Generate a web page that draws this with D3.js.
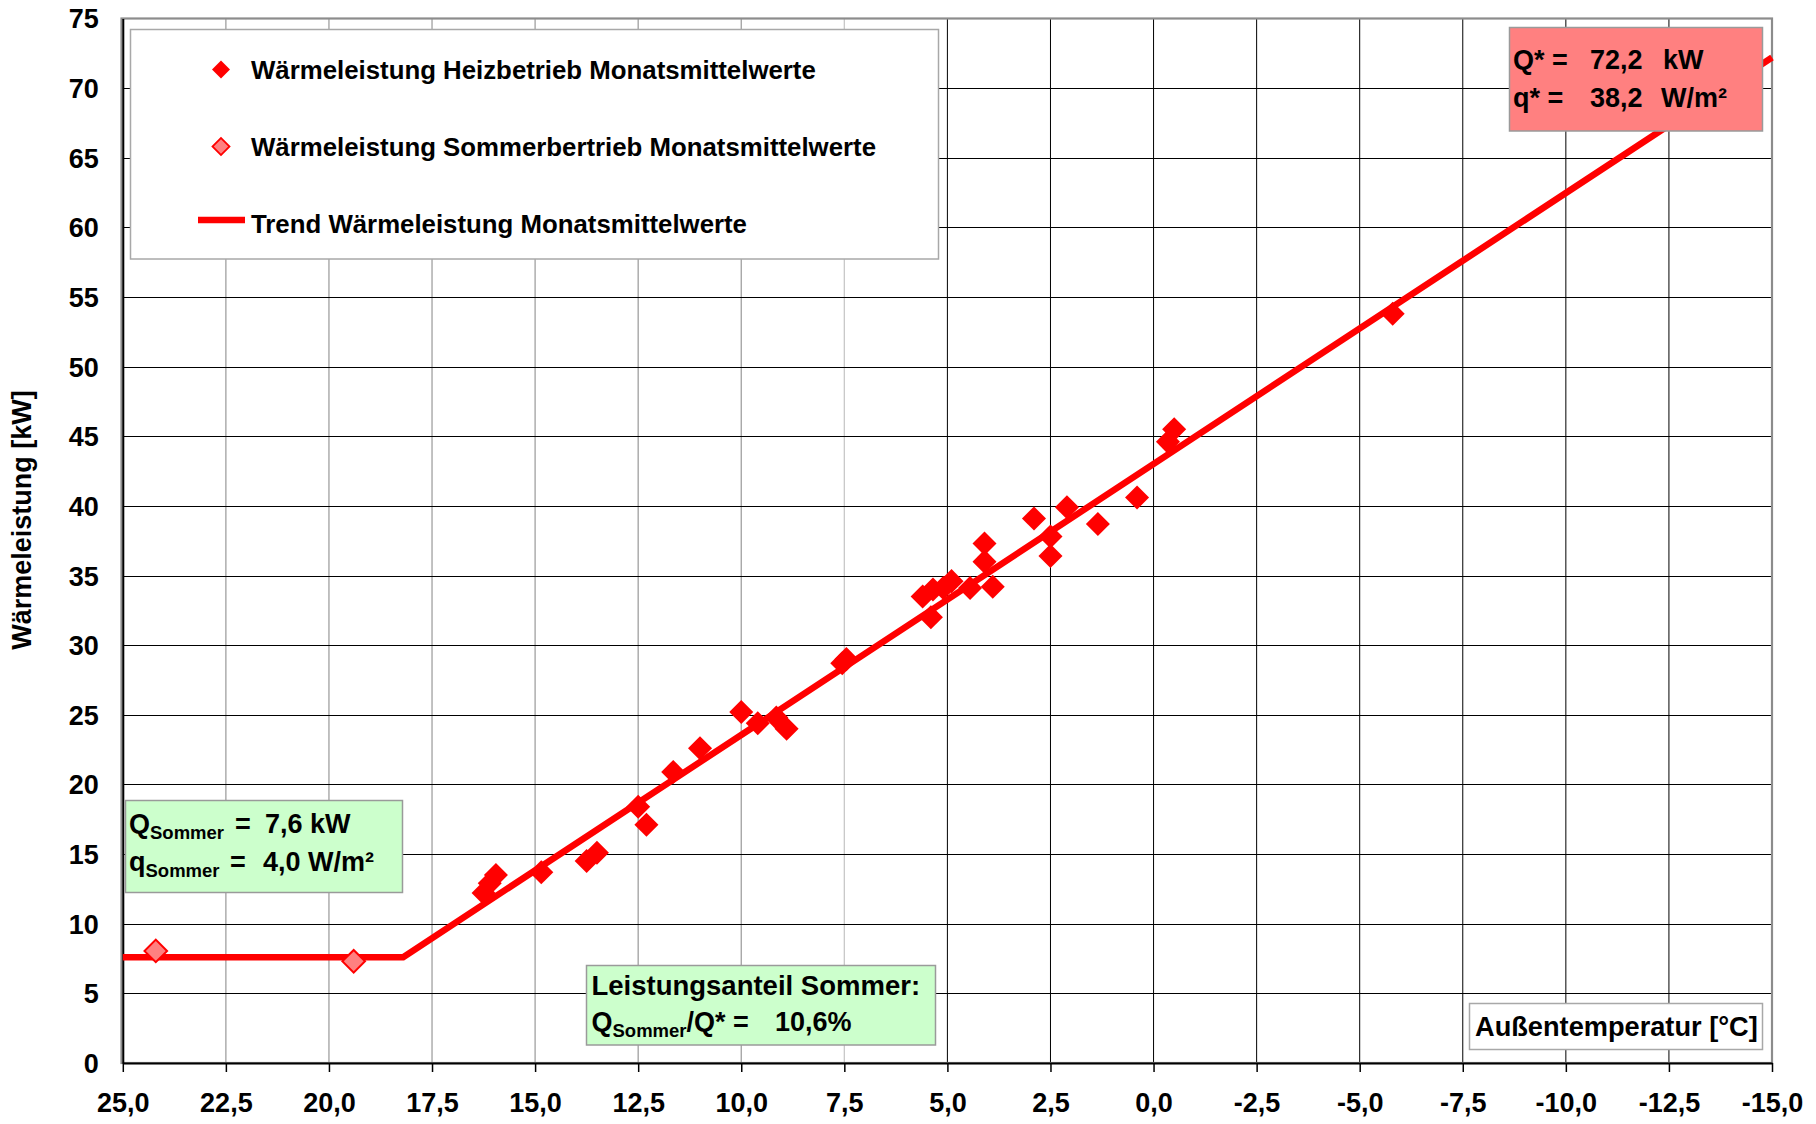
<!DOCTYPE html>
<html>
<head>
<meta charset="utf-8">
<script src="https://cdn.jsdelivr.net/npm/d3@7"></script>
<style>
  html, body { margin: 0; padding: 0; background: #fff; }
  svg { display: block; }
  text { font-family: "Liberation Sans", Arial, sans-serif; font-weight: bold; fill: #000; }
</style>
</head>
<body>
<svg id="chart" width="1816" height="1124"></svg>
<script>
// Monthly mean heat output, heating operation: outdoor temperature [°C] and output [kW]
const heatTemp = [16.25, 16.1, 15.95, 14.85, 13.75, 13.5, 12.5, 12.3, 11.65, 11.0,
                  10.0, 9.6, 9.15, 8.9, 7.55, 7.45, 5.6, 5.4, 5.35, 5.1,
                  4.9, 4.45, 4.1, 4.1, 3.9, 2.9, 2.5, 2.5, 2.1, 1.35,
                  0.4, -0.35, -0.5, -5.8];
const heatPower = [12.2, 12.9, 13.5, 13.7, 14.5, 15.1, 18.4, 17.1, 20.9, 22.6,
                   25.2, 24.4, 24.8, 24.0, 28.7, 29.0, 33.5, 32.0, 34.0, 34.1,
                   34.6, 34.1, 37.3, 36.0, 34.2, 39.1, 37.8, 36.4, 39.9, 38.7,
                   40.6, 44.6, 45.5, 53.8];

// Monthly mean heat output, summer operation
const summerTemp = [24.2, 19.4];
const summerPower = [8.05, 7.3];

// Trend of monthly means: constant summer base load, then linear rise
const trendTemp = [25, 18.2, -15];
const trendPower = [7.6, 7.6, 72.2];

// Axis ticks
const xTicks = d3.range(25, -15.01, -2.5);
const yTicks = d3.range(0, 75.01, 5);

const legendLabels = [
  "Wärmeleistung Heizbetrieb Monatsmittelwerte",
  "Wärmeleistung Sommerbertrieb Monatsmittelwerte",
  "Trend Wärmeleistung Monatsmittelwerte"
];

const de = d3.formatLocale({decimal: ",", thousands: ".", grouping: [3], currency: ["", " €"], minus: "-"});
const fmtX = de.format(".1f");

const svg = d3.select("#chart");
const L = 122.8, R = 1772, T = 18.5, B = 1063;
const x = d3.scaleLinear().domain([25, -15]).range([L, R]);
const y = d3.scaleLinear().domain([0, 75]).range([B, T]);

// Gridlines
const grid = svg.append("g");
grid.selectAll("line.v").data(xTicks.slice(1, -1)).join("line")
  .attr("x1", d => x(d)).attr("x2", d => x(d))
  .attr("y1", T).attr("y2", B)
  .attr("stroke", d => d > 7.6 ? "#a0a0a0" : (d > 5.1 ? "#c8c8c8" : "#000"))
  .attr("stroke-width", d => d > 5.1 ? 1.3 : 1);
grid.selectAll("line.h").data(yTicks.slice(1, -1)).join("line")
  .attr("x1", L).attr("x2", R)
  .attr("y1", d => Math.round(y(d)) + 0.5).attr("y2", d => Math.round(y(d)) + 0.5)
  .attr("stroke", "#000").attr("stroke-width", 1);

// Plot area frame
svg.append("rect").attr("x", L - 1.3).attr("y", T).attr("width", R - L + 1.3).attr("height", B - T)
  .attr("fill", "none").attr("stroke", "#8c8c8c").attr("stroke-width", 2.2);

// Axes
const xAxis = d3.axisBottom(x).tickValues(xTicks).tickFormat(d => fmtX(d))
  .tickSize(9).tickSizeOuter(0).tickPadding(21);
const gx = svg.append("g").attr("transform", `translate(0,${B})`).call(xAxis);
gx.select(".domain").attr("stroke", "#000").attr("stroke-width", 2);
gx.selectAll(".tick line").attr("stroke", "#000").attr("stroke-width", 1.5);
gx.selectAll(".tick text").attr("font-size", 27).attr("font-family", null);

const yAxis = d3.axisLeft(y).tickValues(yTicks).tickFormat(d3.format("d"))
  .tickSize(0).tickSizeOuter(0).tickPadding(24);
const gy = svg.append("g").attr("transform", `translate(${L},0)`).call(yAxis);
gy.select(".domain").attr("stroke", "#000").attr("stroke-width", 2);
gy.selectAll(".tick text").attr("font-size", 27).attr("font-family", null).attr("dy", "0.35em");
svg.selectAll(".tick text").attr("fill", "#000");

// Axis title (vertical)
svg.append("text")
  .attr("transform", "translate(31,520) rotate(-90)")
  .attr("text-anchor", "middle").attr("font-size", 27)
  .text("Wärmeleistung [kW]");

// Trend line
const trend = trendTemp.map((t, i) => [t, trendPower[i]]);
svg.append("path").datum(trend)
  .attr("d", d3.line().x(d => x(d[0])).y(d => y(d[1])))
  .attr("fill", "none").attr("stroke", "#ff0000").attr("stroke-width", 6.5)
  .attr("stroke-linejoin", "miter");

// Data points
const diamond = size => d3.symbol(d3.symbolSquare, size)();
const heat = heatTemp.map((t, i) => [t, heatPower[i]]);
svg.append("g").selectAll("path").data(heat).join("path")
  .attr("d", diamond(289))
  .attr("transform", d => `translate(${x(d[0])},${y(d[1])}) rotate(45)`)
  .attr("fill", "#ff0000");
const summer = summerTemp.map((t, i) => [t, summerPower[i]]);
svg.append("g").selectAll("path").data(summer).join("path")
  .attr("d", diamond(256))
  .attr("transform", d => `translate(${x(d[0])},${y(d[1])}) rotate(45)`)
  .attr("fill", "#ff8080").attr("stroke", "#ff0000").attr("stroke-width", 2);

// Legend
const leg = svg.append("g");
leg.append("rect").attr("x", 130.5).attr("y", 29.5).attr("width", 808).attr("height", 229.5)
  .attr("fill", "#fff").attr("stroke", "#a8a8a8").attr("stroke-width", 1.5);
const legRows = [69.5, 146.5, 223.5];
leg.append("path").attr("d", diamond(162))
  .attr("transform", `translate(221,${legRows[0]}) rotate(45)`).attr("fill", "#ff0000");
leg.append("path").attr("d", diamond(144))
  .attr("transform", `translate(221,${legRows[1]}) rotate(45)`)
  .attr("fill", "#ff8080").attr("stroke", "#ff0000").attr("stroke-width", 1.8);
leg.append("line").attr("x1", 198).attr("x2", 245).attr("y1", 220).attr("y2", 220)
  .attr("stroke", "#ff0000").attr("stroke-width", 6.5);
leg.selectAll("text").data(legendLabels).join("text")
  .attr("x", 251).attr("y", (d, i) => legRows[i] + 9.3)
  .attr("font-size", 25.8).text(d => d);

// Design output box
const qBox = svg.append("g");
qBox.append("rect").attr("x", 1509.5).attr("y", 27.5).attr("width", 253).attr("height", 103.5)
  .attr("fill", "#ff8080").attr("stroke", "#9a9a9a").attr("stroke-width", 1.5);
[["Q* =", 1513, 69], ["72,2", 1590, 69], ["kW", 1663, 69],
 ["q* =", 1513, 107], ["38,2", 1590, 107], ["W/m²", 1661, 107]].forEach(([s, tx, ty]) =>
  qBox.append("text").attr("x", tx).attr("y", ty).attr("font-size", 27).text(s));

// Summer base load box
const sBox = svg.append("g");
sBox.append("rect").attr("x", 125.5).attr("y", 800.5).attr("width", 277).attr("height", 92)
  .attr("fill", "#ccffcc").attr("stroke", "#9a9a9a").attr("stroke-width", 1.5);
function subLine(g, x0, base, main, sub, rest) {
  const t = g.append("text").attr("x", x0).attr("y", base).attr("font-size", 27);
  t.append("tspan").text(main);
  t.append("tspan").attr("font-size", 18.5).attr("dy", 6).text(sub);
  rest.forEach(([s, rx]) => t.append("tspan").attr("x", rx).attr("y", base).text(s));
  return t;
}
subLine(sBox, 129, 833, "Q", "Sommer", [["=", 235], ["7,6 kW", 265]]);
subLine(sBox, 129, 871, "q", "Sommer", [["=", 230], ["4,0 W/m²", 263]]);

// Summer share box
const pBox = svg.append("g");
pBox.append("rect").attr("x", 586.5).attr("y", 965.5).attr("width", 349).attr("height", 79.5)
  .attr("fill", "#ccffcc").attr("stroke", "#9a9a9a").attr("stroke-width", 1.5);
pBox.append("text").attr("x", 591.5).attr("y", 995).attr("font-size", 27.5).text("Leistungsanteil Sommer:");
subLine(pBox, 591.5, 1031, "Q", "Sommer", [["/Q* =", 686.5], ["10,6%", 775]]);

// Horizontal axis title box
const xt = svg.append("g");
xt.append("rect").attr("x", 1469.5).attr("y", 1003.5).attr("width", 293).attr("height", 46)
  .attr("fill", "#fff").attr("stroke", "#a8a8a8").attr("stroke-width", 1.5);
xt.append("text").attr("x", 1475).attr("y", 1035.5).attr("font-size", 27.2).text("Außentemperatur [°C]");
</script>
</body>
</html>
